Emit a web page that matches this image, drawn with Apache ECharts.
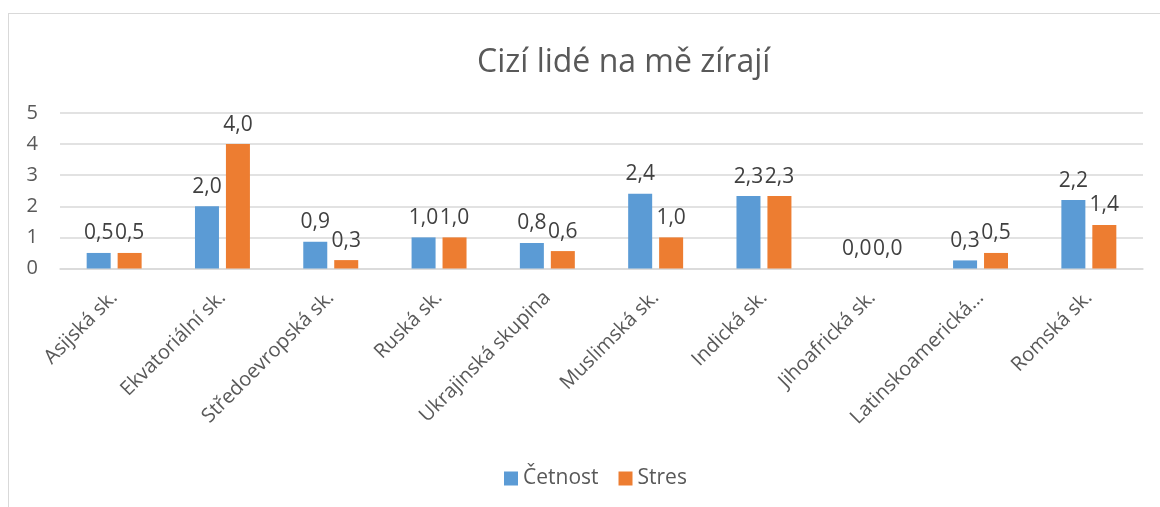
<!DOCTYPE html>
<html>
<head>
<meta charset="utf-8">
<script src="https://cdn.jsdelivr.net/npm/echarts@6/dist/echarts.min.js"></script>
<style>
  html, body { margin: 0; padding: 0; background: #fff; }
  #frame { position: absolute; left: 8px; top: 13px; width: 1170px; height: 520px; border: 1px solid #d9d9d9; box-sizing: border-box; }
  #chart { position: absolute; left: 0; top: 0; width: 1160px; height: 507px; }
</style>
</head>
<body>
<div id="frame"></div>
<div id="chart"></div>
<script>
const titleText = 'Cizí lidé na mě zírají';
const categories = ['Asijská sk.', 'Ekvatoriální sk.', 'Středoevropská sk.', 'Ruská sk.', 'Ukrajinská skupina', 'Muslimská sk.', 'Indická sk.', 'Jihoafrická sk.', 'Latinskoamerická…', 'Romská sk.'];
const cetnost = [0.5, 2.0, 0.86, 1.0, 0.82, 2.4, 2.33, 0.0, 0.26, 2.2];
const stres = [0.5, 4.0, 0.27, 1.0, 0.56, 1.0, 2.33, 0.0, 0.5, 1.4];
const yTicks = { min: 0, max: 5, interval: 1 };

const FONT = '"Open Sans", "Noto Sans", sans-serif';
const fmt = p => p.value.toFixed(1).replace('.', ',');

const chart = echarts.init(document.getElementById('chart'), null, { renderer: 'canvas' });
chart.setOption({
  backgroundColor: 'transparent',
  animation: false,
  textStyle: { fontFamily: FONT },
  title: {
    text: titleText,
    left: 472,
    top: 42,
    textStyle: { fontFamily: FONT, fontSize: 32, fontWeight: 'normal', color: '#595959' }
  },
  legend: {
    data: ['Četnost', 'Stres'],
    left: 499,
    top: 463,
    itemWidth: 14,
    itemHeight: 14,
    itemGap: 20,
    icon: 'rect',
    textStyle: { fontFamily: FONT, fontSize: 21, color: '#595959' }
  },
  grid: { left: 60, right: 17, top: 113, bottom: 238.5, containLabel: false },
  xAxis: {
    type: 'category',
    data: categories,
    axisTick: { show: false },
    axisLine: { lineStyle: { color: '#d9d9d9', width: 1.5 } },
    axisLabel: { interval: 0, rotate: 45, fontSize: 20, color: '#595959', margin: 26, fontFamily: FONT }
  },
  yAxis: {
    type: 'value',
    min: yTicks.min,
    max: yTicks.max,
    interval: yTicks.interval,
    axisLine: { show: false },
    axisTick: { show: false },
    axisLabel: { fontSize: 20, color: '#595959', margin: 22, fontFamily: FONT },
    splitLine: { lineStyle: { color: '#d9d9d9', width: 1.5 } }
  },
  series: [
    {
      name: 'Četnost',
      type: 'bar',
      data: cetnost,
      barWidth: 24,
      barGap: '29%',
      itemStyle: { color: '#5B9BD5' },
      label: { show: true, position: 'top', distance: 9, formatter: fmt, fontSize: 21, color: '#404040', fontFamily: FONT }
    },
    {
      name: 'Stres',
      type: 'bar',
      data: stres,
      barWidth: 24,
      barGap: '29%',
      itemStyle: { color: '#ED7D31' },
      label: { show: true, position: 'top', distance: 9, formatter: fmt, fontSize: 21, color: '#404040', fontFamily: FONT }
    }
  ]
});
</script>
</body>
</html>
